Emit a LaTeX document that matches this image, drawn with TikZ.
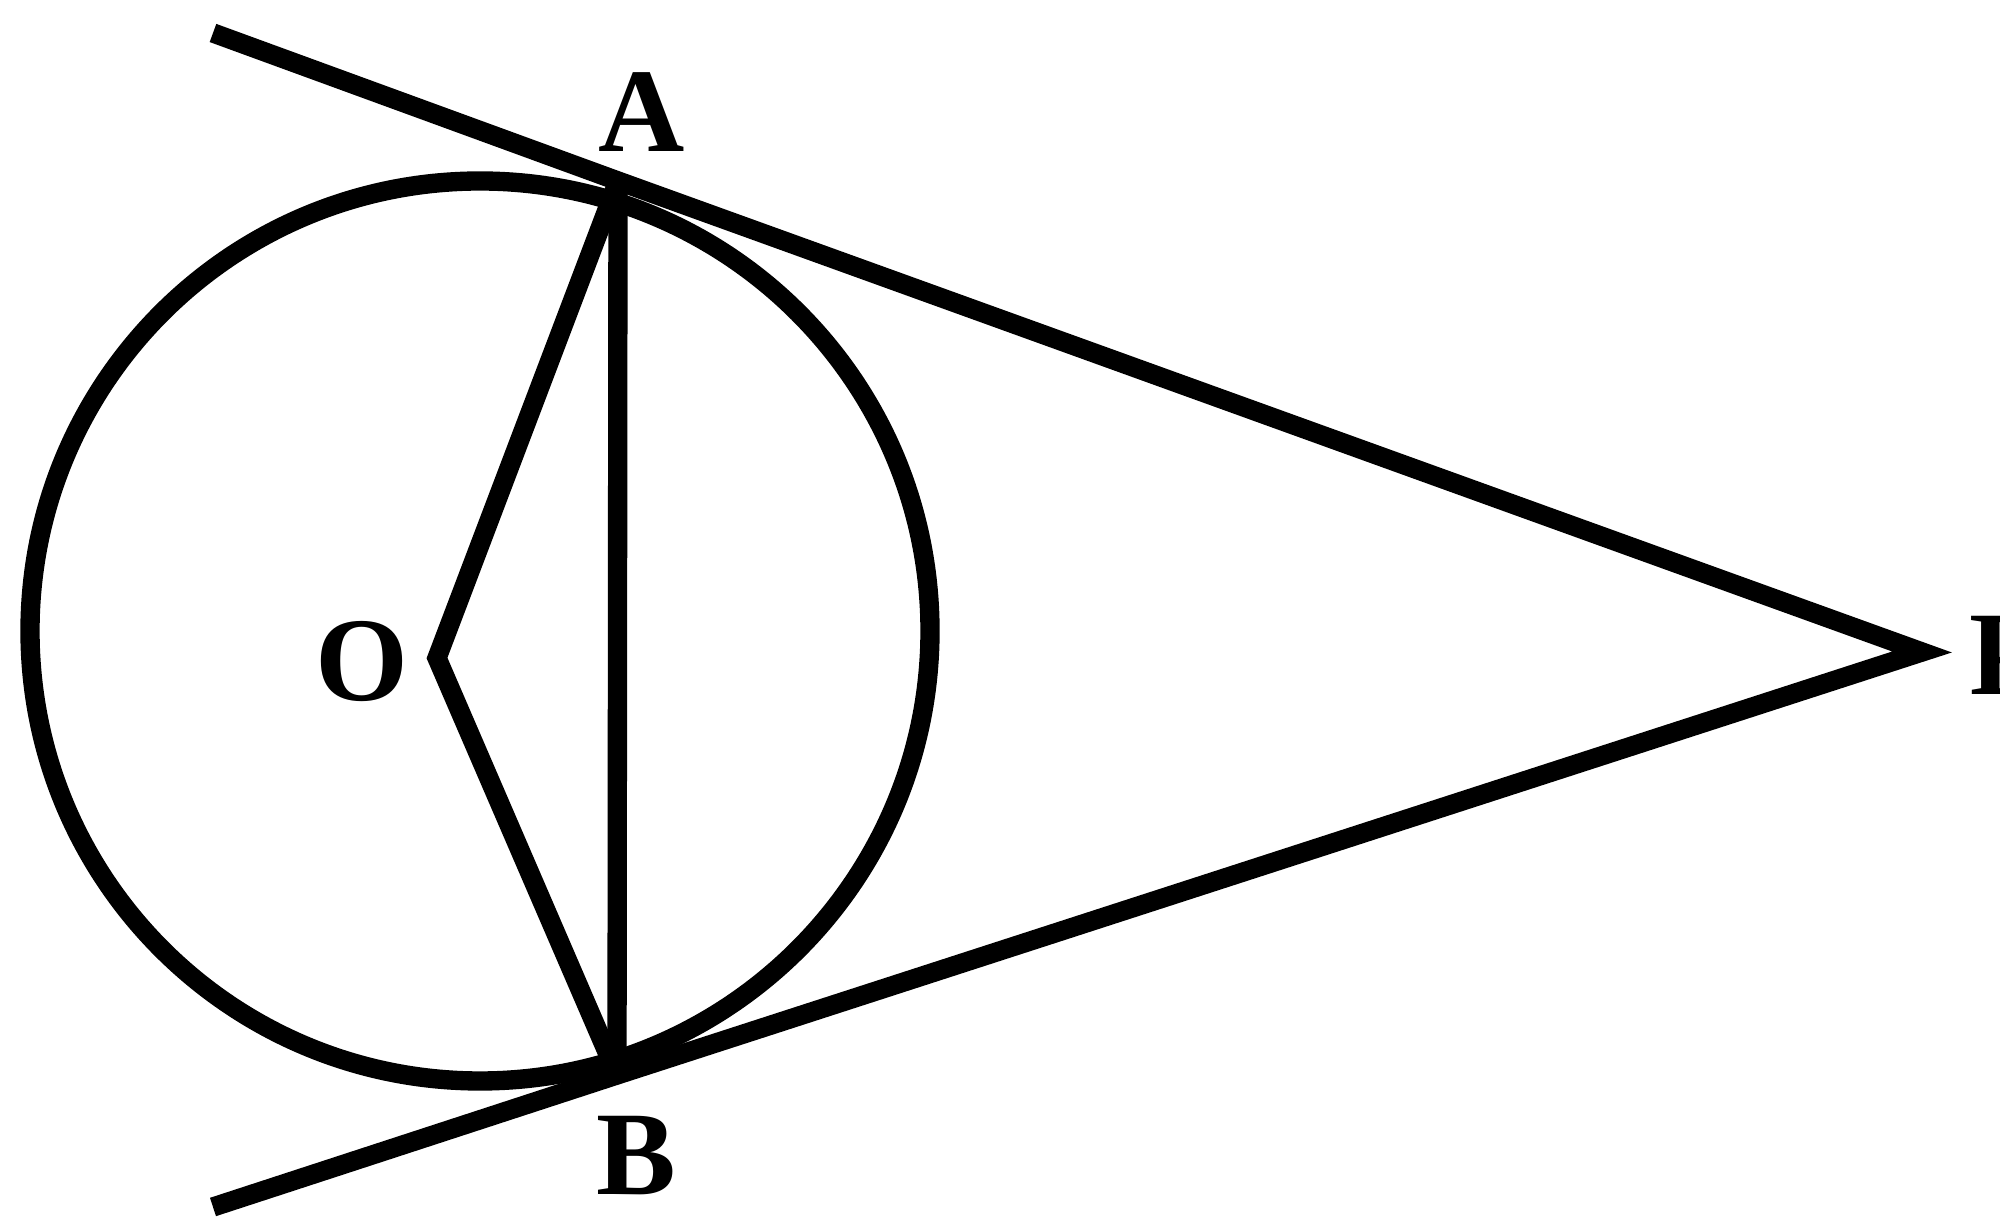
\documentclass[tikz,border=0pt]{standalone}
\usepackage{fontspec}
\setmainfont{Liberation Serif}
\begin{document}
\begin{tikzpicture}
	  [
	    every path/.style       = {line width=5.5pt},
	    every node/.style       = {font=\fontsize{34}{40}\selectfont\bfseries, inner sep=0pt},
	    line/.style             = {draw, black}
	  ]
	  \useasboundingbox (0,0) rectangle (20,12.24);
	  % points
	  \coordinate (C) at (4.80,5.93);
	  \coordinate (O) at (4.37,5.66);
	  \coordinate (A) at (6.18,10.43);
	  \coordinate (B) at (6.17,1.49);
	  \coordinate (P) at (19.22,5.72);
	  \coordinate (TA) at (2.13,11.91);
	  \coordinate (TB) at (2.13,0.17);
	  % circle and lines
	  \draw [line] (C) circle (4.50);
	  \draw [line] (TA) -- (A) -- (P) -- (B) -- (TB);
	  \draw [line] (A) -- (O) -- (B);
	  \draw [line] (A) -- (B);
	  % labels
	  \node (labelA) at (6.42,11.12) {A};
	  \node (labelB) at (6.36,0.68) {B};
	  \node (labelO) at (3.62,5.62) {O};
	  \node (labelP) [anchor=west] at (19.60,5.69) {P};
	\end{tikzpicture}
\end{document}
